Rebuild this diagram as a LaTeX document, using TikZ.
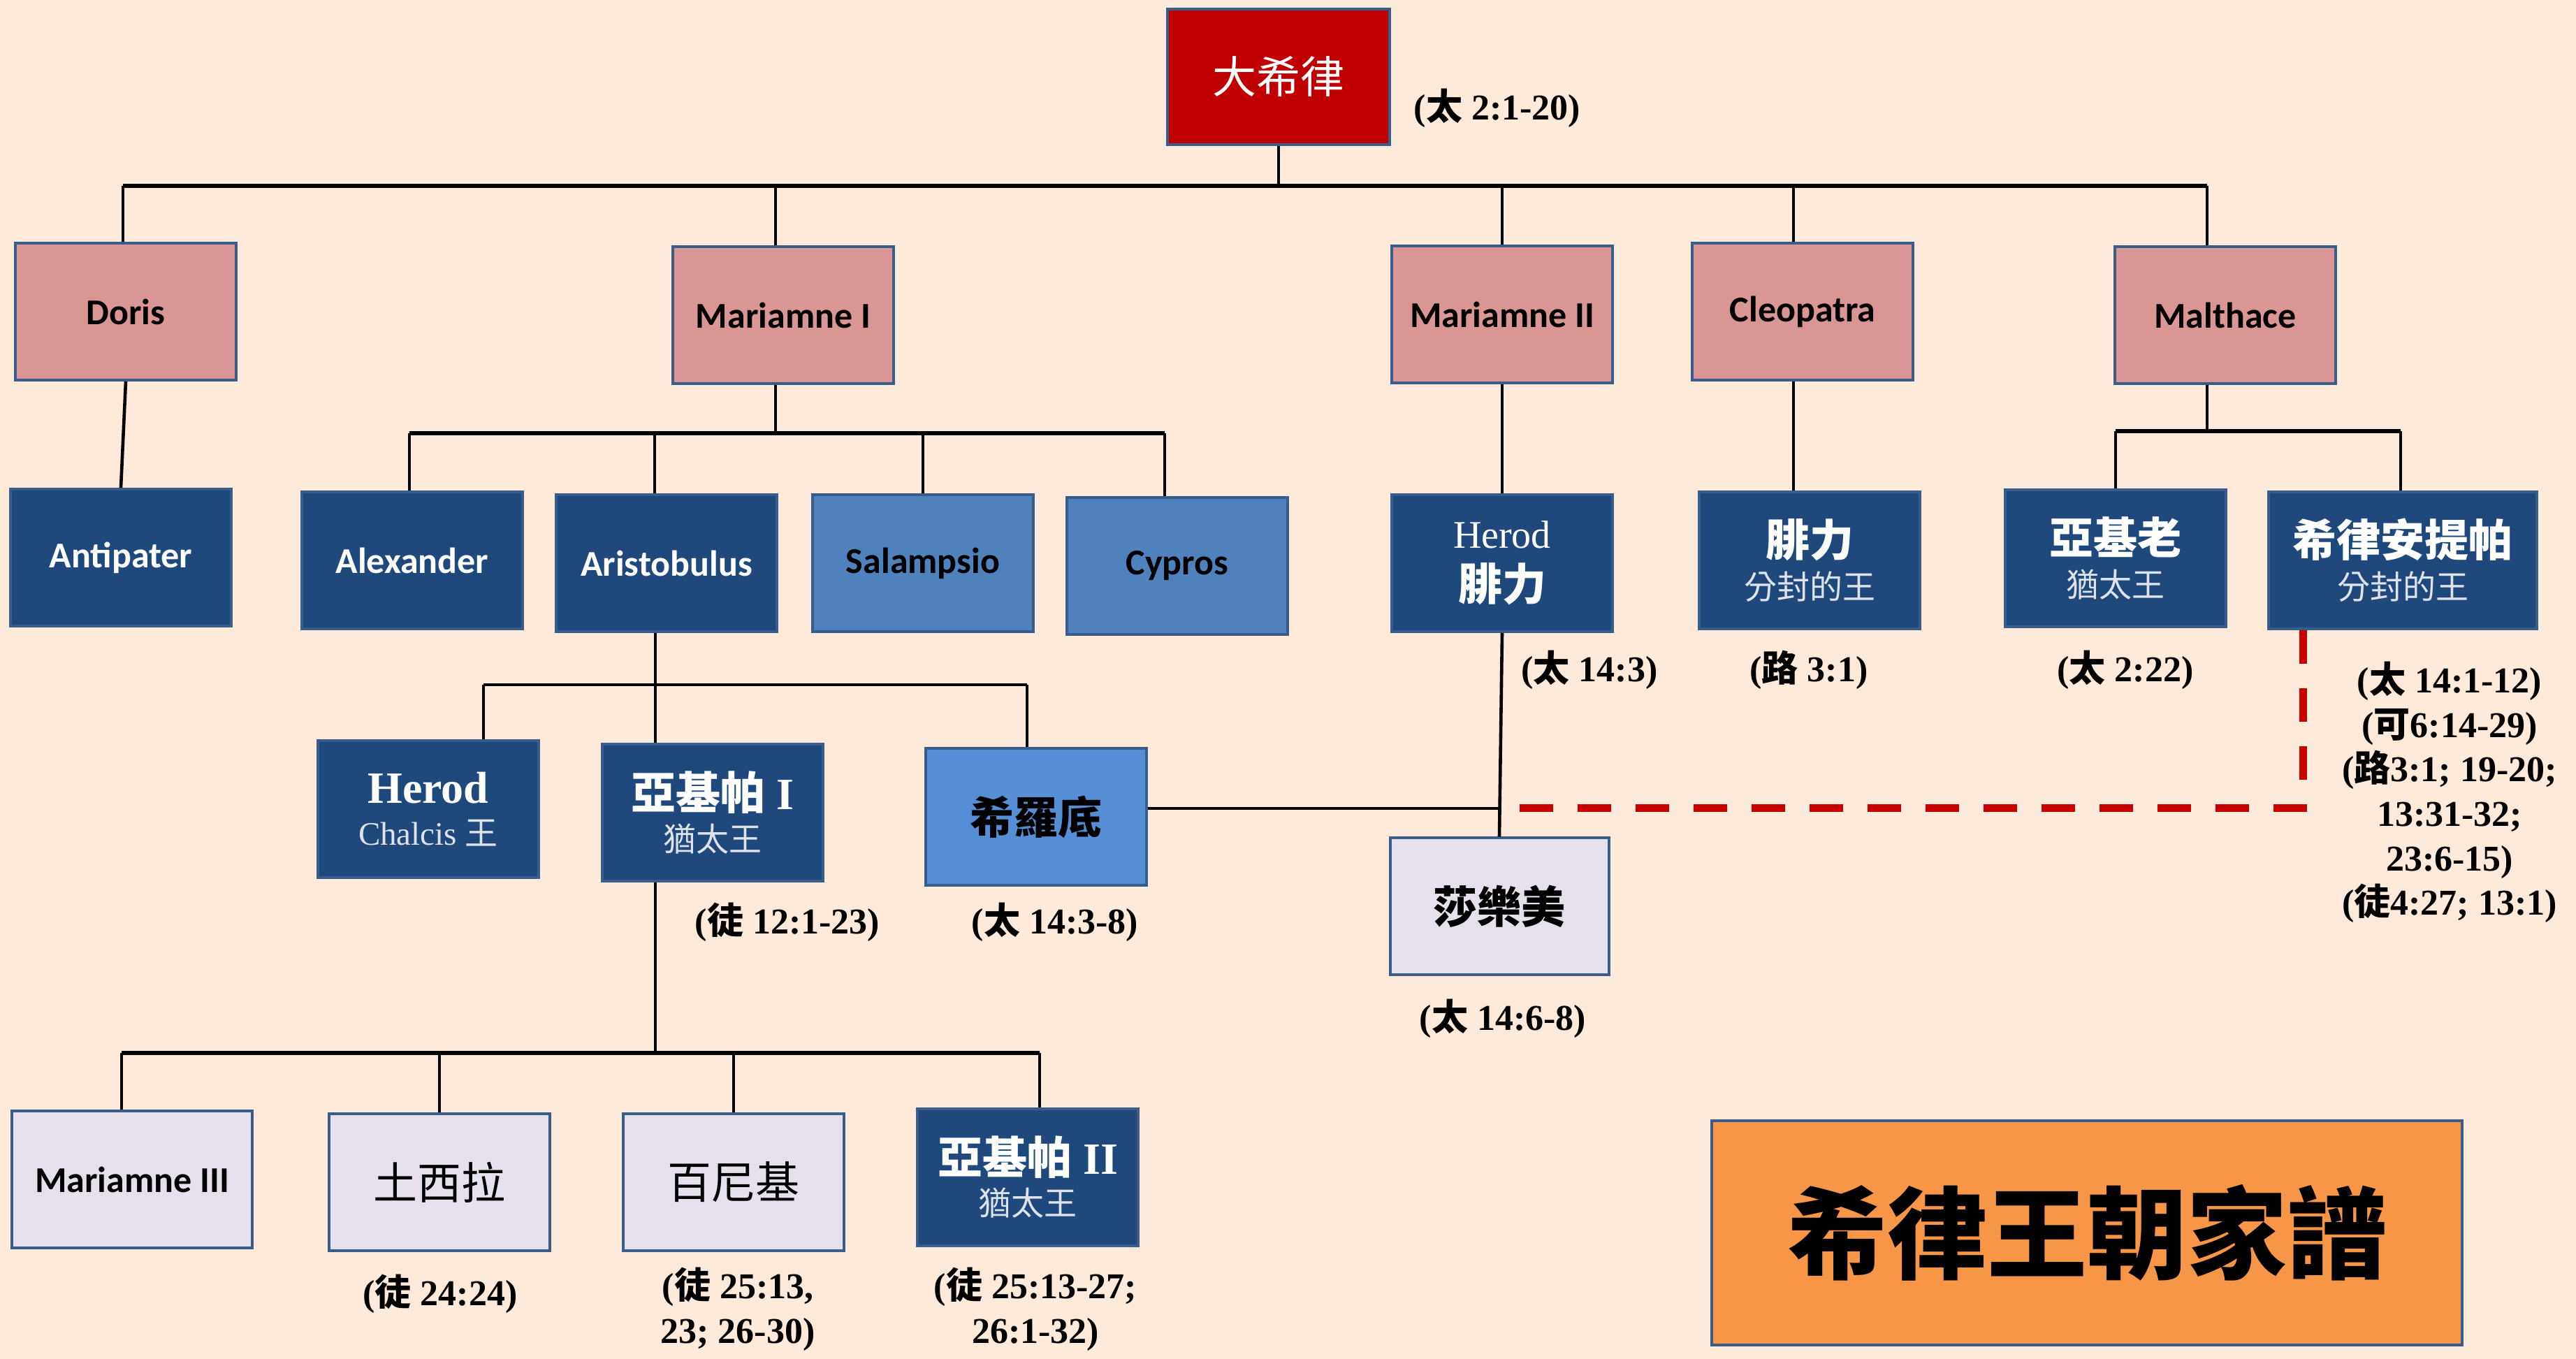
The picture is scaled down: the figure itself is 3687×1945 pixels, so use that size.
\documentclass[tikz,border=0pt]{standalone}
\usepackage{fontspec}
\setmainfont{Liberation Serif}
\newfontfamily\cjk{Noto Sans CJK TC}
\newfontfamily\calib{Carlito}
\usetikzlibrary{calc}
\definecolor{bgc}{RGB}{253,234,218}
\definecolor{bordc}{RGB}{56,93,138}
\definecolor{redbox}{RGB}{192,0,0}
\definecolor{pinkc}{RGB}{217,150,148}
\definecolor{darkc}{RGB}{31,73,125}
\definecolor{medc}{RGB}{79,129,189}
\definecolor{brightc}{RGB}{85,142,213}
\definecolor{lavc}{RGB}{229,224,236}
\definecolor{orangec}{RGB}{247,150,70}
\definecolor{subc}{RGB}{222,226,234}
\definecolor{dashc}{RGB}{200,0,0}
\newcommand\mysub[1]{{\color{subc}\mdseries\fontsize{11.75}{15}\selectfont #1}}
\begin{document}
\begin{tikzpicture}[x=0.25pt,y=-0.25pt,
  box/.style={draw=bordc,line width=1pt,inner sep=0pt,minimum width=79pt,minimum height=49pt,align=center},
  pinkbox/.style={box,fill=pinkc,font=\calib\bfseries\fontsize{13}{15}\selectfont},
  darklat/.style={box,fill=darkc,text=white,font=\calib\bfseries\fontsize{13}{15}\selectfont},
  medlat/.style={box,fill=medc,text=black,font=\calib\bfseries\fontsize{13}{15}\selectfont},
  darkcjk/.style={box,fill=darkc,text=white,font=\cjk\bfseries\fontsize{15.75}{15.25}\selectfont},
  lightcjk/.style={box,fill=lavc,text=black,font=\cjk\fontsize{15.75}{18}\selectfont},
  conn/.style={line width=1.15pt,black},
  barline/.style={line width=1.5pt,black},
  reddash/.style={line width=2.75pt,draw=dashc,dash pattern=on 12pt off 8.75pt},
  reflab/.style={font=\bfseries\fontsize{13}{15.9}\selectfont,align=center,inner sep=0pt}
]
\fill[bgc] (0,0) rectangle (3687,1945);
\useasboundingbox (0,0) rectangle (3687,1945);

% ---------- nodes ----------
\node[box,fill=redbox,text=white,minimum width=79.5pt,minimum height=48.5pt,font=\cjk\fontsize{15.75}{18}\selectfont] (hg) at (1830,110) {大希律};

\node[pinkbox] (doris) at (180,446) {Doris};
\node[pinkbox] (mar1) at (1121,451) {Mariamne I};
\node[pinkbox] (mar2) at (2150,450) {Mariamne II};
\node[pinkbox] (cleo) at (2580,446) {Cleopatra};
\node[pinkbox] (malt) at (3185,451) {Malthace};

\node[darklat] (antip) at (173,798) {Antipater};
\node[darklat] (alex) at (590,802) {Alexander};
\node[darklat] (aristo) at (954,806) {Aristobulus};
\node[medlat] (salam) at (1321,806) {Salampsio};
\node[medlat] (cypros) at (1685,810) {Cypros};

\node[box,fill=darkc,text=white,font=\rmfamily\fontsize{14}{18.65}\selectfont] (herodp) at (2150,806) {Herod\\{\cjk\bfseries\fontsize{15.75}{18.65}\selectfont 腓力}};
\node[darkcjk] (philip) at (2590,802) {腓力\\\mysub{分封的王}};
\node[darkcjk] (arche) at (3028,799) {亞基老\\\mysub{猶太王}};
\node[darkcjk,minimum width=96pt] (antipas) at (3439,802) {希律安提帕\\\mysub{分封的王}};

\node[box,fill=darkc,text=white,font=\rmfamily\bfseries\fontsize{16}{14.85}\selectfont] (chalcis) at (613,1158) {Herod\\{\color{subc}\mdseries\fontsize{11.75}{14.85}\selectfont Chalcis {\cjk 王}}};
\node[darkcjk,font=\cjk\bfseries\fontsize{16}{15.15}\selectfont] (agr1) at (1020,1163) {亞基帕{\rmfamily\ I}\\\mysub{猶太王}};
\node[box,fill=brightc,text=black,font=\cjk\bfseries\fontsize{15.75}{18}\selectfont] (herodias) at (1483,1169) {希羅底};
\node[lightcjk,font=\cjk\bfseries\fontsize{15.75}{18}\selectfont,minimum width=78.25pt,minimum height=48.75pt] (salome) at (2146,1297) {莎樂美};

\node[box,fill=lavc,text=black,minimum width=86pt,font=\calib\bfseries\fontsize{13}{15}\selectfont] (mar3) at (189,1688) {Mariamne III};
\node[lightcjk] (drusilla) at (629,1692) {土西拉};
\node[lightcjk] (bernice) at (1050,1692) {百尼基};
\node[darkcjk,font=\cjk\bfseries\fontsize{16}{14.75}\selectfont] (agr2) at (1471,1685) {亞基帕{\rmfamily\ II}\\\mysub{猶太王}};

\node[box,fill=orangec,text=black,minimum width=268.5pt,minimum height=80.25pt,font=\cjk\bfseries\fontsize{35.75}{40}\selectfont] (title) at (2987,1764) {希律王朝家譜};

% ---------- reference labels ----------
\node[reflab] (r0) at (2143,155) {({\cjk 太} 2:1-20)};
\node[reflab] (r1) at (2275,959) {({\cjk 太} 14:3)};
\node[reflab] (r2) at (2589,959) {({\cjk 路} 3:1)};
\node[reflab] (r3) at (3042,959) {({\cjk 太} 2:22)};
\node[reflab] (r4) at (3506,1134) {({\cjk 太} 14:1-12)\\({\cjk 可}6:14-29)\\({\cjk 路}3:1; 19-20;\\13:31-32;\\23:6-15)\\({\cjk 徒}4:27; 13:1)};
\node[reflab] (r5) at (1127,1320) {({\cjk 徒} 12:1-23)};
\node[reflab] (r6) at (1510,1320) {({\cjk 太} 14:3-8)};
\node[reflab] (r7) at (2151,1458) {({\cjk 太} 14:6-8)};
\node[reflab] (r8) at (630,1852) {({\cjk 徒} 24:24)};
\node[reflab,font=\bfseries\fontsize{13}{16}\selectfont] (r9) at (1056,1874) {({\cjk 徒} 25:13,\\23; 26-30)};
\node[reflab,font=\bfseries\fontsize{13}{16}\selectfont] (r10) at (1482,1874) {({\cjk 徒} 25:13-27;\\26:1-32)};

% ---------- connectors ----------
\coordinate (tb) at (1830,266);
\coordinate (tbL) at (176,266);
\coordinate (tbR) at (3159,266);
\draw[conn] (hg.south) -- (tb);
\draw[barline] (tbL) -- (tbR);
\draw[conn] (tbL) -- (tbL |- doris.north);
\draw[conn] ([xshift=-2.75pt]mar1.north) -- ([xshift=-2.75pt]mar1.north |- tb);
\draw[conn] (mar2.north) -- (mar2.north |- tb);
\draw[conn] ([xshift=-3.25pt]cleo.north) -- ([xshift=-3.25pt]cleo.north |- tb);
\draw[conn] (tbR) -- (tbR |- malt.north);

\draw[conn] (doris.south) -- (antip.north);

\coordinate (b1) at (1110,620);
\coordinate (b1L) at (586,620);
\coordinate (b1R) at (1667,620);
\draw[conn] ([xshift=-2.75pt]mar1.south) -- (b1);
\draw[barline] (b1L) -- (b1R);
\draw[conn] (b1L) -- (b1L |- alex.north);
\draw[conn] ([xshift=-4.25pt]aristo.north) -- ([xshift=-4.25pt]aristo.north |- b1);
\draw[conn] (salam.north) -- (salam.north |- b1);
\draw[conn] (b1R) -- (b1R |- cypros.north);

\draw[conn] (mar2.south) -- (herodp.north);
\draw[conn] ([xshift=-3.25pt]cleo.south) -- ([xshift=-5.75pt]philip.north);

\coordinate (b2) at (3159,617);
\coordinate (b2L) at (3028,617);
\coordinate (b2R) at (3436,617);
\draw[conn] ([xshift=-6.5pt]malt.south) -- (b2);
\draw[barline] (b2L) -- (b2R);
\draw[conn] (b2L) -- (b2L |- arche.north);
\draw[conn] (b2R) -- (b2R |- antipas.north);

\coordinate (b3) at (938,980);
\coordinate (b3L) at (692,980);
\coordinate (b3R) at (1470,980);
\draw[conn] (b3 |- aristo.south) -- (b3);
\draw[conn] (b3L) -- (b3R);
\draw[conn] (b3L) -- (b3L |- chalcis.north);
\draw[conn] (b3) -- (b3 |- agr1.north);
\draw[conn] (b3R) -- (b3R |- herodias.north);

\coordinate (b4) at (938,1507);
\coordinate (b4L) at (174,1507);
\coordinate (b4R) at (1488,1507);
\draw[conn] (b3 |- agr1.south) -- (b4);
\draw[barline] (b4L) -- (b4R);
\draw[conn] (b4L) -- (b4L |- mar3.north);
\draw[conn] (drusilla.north) -- (drusilla.north |- b4);
\draw[conn] (bernice.north) -- (bernice.north |- b4);
\draw[conn] (b4R) -- (b4R |- agr2.north);

\draw[conn] (herodp.south) -- (salome.north);
\coordinate (hx) at (2148,1157);
\draw[conn] ([yshift=3pt]herodias.east) -- (hx);
\draw[reddash] ([xshift=-35.75pt]antipas.south) |- ([xshift=4.25pt]hx);
\end{tikzpicture}
\end{document}
